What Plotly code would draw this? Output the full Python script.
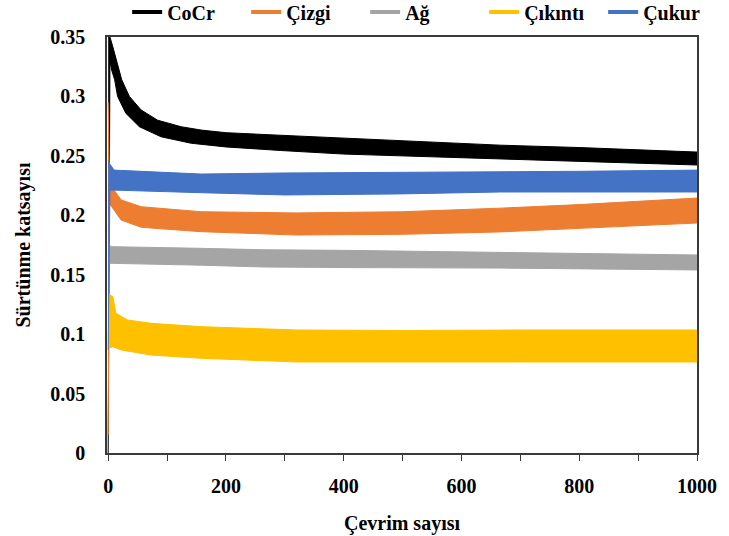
import plotly.graph_objects as go

# ---- data (band upper / lower edges) ----
names = ["CoCr", "Çizgi", "Ağ", "Çıkıntı", "Çukur"]
colors = ["#000000", "#ED7D31", "#A5A5A5", "#FFC000", "#4472C4"]

# CoCr
xu_cocr = [0, 3, 8, 15, 23, 36, 56, 84, 124, 158, 200, 263, 400, 500, 666, 800, 1000]
up_cocr = [0.350, 0.350, 0.3416, 0.328, 0.314, 0.300, 0.2886, 0.280, 0.2745, 0.2717, 0.2695, 0.268, 0.265, 0.2625, 0.259, 0.257, 0.2532]
xl_cocr = [0, 3, 6, 11, 16, 30, 53, 90, 141, 200, 293, 400, 500, 666, 800, 1000]
lo_cocr = [0.000, 0.330, 0.322, 0.314, 0.300, 0.2858, 0.2745, 0.266, 0.2606, 0.2575, 0.2545, 0.2515, 0.250, 0.2474, 0.2455, 0.2423]

# Çizgi
xu_cizgi = [0, 2, 8, 22, 56, 158, 320, 500, 666, 800, 1000]
up_cizgi = [0.295, 0.228, 0.2227, 0.2129, 0.2072, 0.203, 0.202, 0.203, 0.206, 0.209, 0.2145]
xl_cizgi = [0, 2, 8, 22, 56, 158, 320, 500, 666, 800, 1000]
lo_cizgi = [0.015, 0.210, 0.2059, 0.196, 0.1899, 0.1862, 0.1834, 0.184, 0.186, 0.189, 0.1935]

# Ağ
xu_ag = [0, 5, 158, 263, 400, 666, 800, 1000]
up_ag = [0.176, 0.1736, 0.1722, 0.171, 0.1705, 0.169, 0.168, 0.1666]
xl_ag = [0, 5, 158, 263, 400, 666, 800, 1000]
lo_ag = [0.159, 0.1596, 0.158, 0.1565, 0.1560, 0.1556, 0.155, 0.1540]

# Çıkıntı
xu_cikinti = [0, 3, 8, 13, 33, 73, 158, 320, 500, 700, 1000]
up_cikinti = [0.1346, 0.133, 0.1315, 0.1175, 0.1119, 0.1091, 0.1063, 0.1035, 0.103, 0.1035, 0.1035]
xl_cikinti = [0, 8, 22, 73, 158, 320, 500, 700, 1000]
lo_cikinti = [0.088, 0.0894, 0.0867, 0.0824, 0.0797, 0.0766, 0.0766, 0.0766, 0.0766]

# Çukur
xu_cukur = [0, 3, 10, 158, 300, 500, 666, 800, 1000]
up_cukur = [0.246, 0.243, 0.238, 0.2347, 0.2356, 0.236, 0.2364, 0.237, 0.238]
xl_cukur = [0, 3, 10, 158, 300, 500, 666, 800, 1000]
lo_cukur = [0.0866, 0.2213, 0.221, 0.219, 0.2171, 0.218, 0.2196, 0.2196, 0.2196]

x_tick_vals = [0, 200, 400, 600, 800, 1000]
y_tick_vals = [0, 0.05, 0.1, 0.15, 0.2, 0.25, 0.3, 0.35]
y_tick_text = ["0", "0.05", "0.1", "0.15", "0.2", "0.25", "0.3", "0.35"]

series = [
    (xu_cocr, up_cocr, xl_cocr, lo_cocr),
    (xu_cizgi, up_cizgi, xl_cizgi, lo_cizgi),
    (xu_ag, up_ag, xl_ag, lo_ag),
    (xu_cikinti, up_cikinti, xl_cikinti, lo_cikinti),
    (xu_cukur, up_cukur, xl_cukur, lo_cukur),
]

FONT = "Liberation Serif"

fig = go.Figure()
for name, col, (xu, up, xl, lo) in zip(names, colors, series):
    fig.add_trace(go.Scatter(
        x=list(xu) + list(xl)[::-1],
        y=list(up) + list(lo)[::-1],
        fill="toself", fillcolor=col, mode="lines",
        line=dict(color=col, width=1),
        showlegend=False, hoverinfo="skip",
    ))
# legend entries
for name, col in zip(names, colors):
    fig.add_trace(go.Scatter(
        x=[None], y=[None], mode="lines", name=name,
        line=dict(color=col, width=4),
    ))

fig.update_layout(
    width=729, height=536,
    margin=dict(l=107, r=32, t=37, b=83, autoexpand=False),
    paper_bgcolor="white", plot_bgcolor="white",
    font=dict(family=FONT, size=20, color="#000000", weight="bold"),
    showlegend=True,
    legend=dict(
        orientation="h", x=1.0426, xanchor="right", y=1.107, yanchor="top",
        entrywidth=74, entrywidthmode="pixels",
        font=dict(family=FONT, size=20, color="#000000", weight="bold"),
        itemwidth=30, bgcolor="rgba(0,0,0,0)", tracegroupgap=0,
    ),
    xaxis=dict(
        range=[-2, 1000], tickvals=x_tick_vals,
        showline=True, linecolor="#3a3a3a", linewidth=1.5, mirror=True,
        ticks="outside", ticklen=6, tickcolor="#3a3a3a", tickwidth=1.2,
        minor=dict(dtick=100, tick0=0, ticks="outside", ticklen=6, tickcolor="#3a3a3a", tickwidth=1.2, showgrid=False),
        showgrid=False, zeroline=False,
        tickfont=dict(family=FONT, size=20, weight="bold"),
        ticklabelstandoff=8,
        title=dict(text="Çevrim sayısı", font=dict(family=FONT, size=20, weight="bold"), standoff=20),
    ),
    yaxis=dict(
        range=[0, 0.35], tickvals=y_tick_vals, ticktext=y_tick_text,
        showline=True, linecolor="#3a3a3a", linewidth=1.5, mirror=True,
        ticks="", showgrid=False, zeroline=False,
        tickfont=dict(family=FONT, size=20, weight="bold"),
        ticklabelstandoff=16,
        title=dict(text="Sürtünme katsayısı", font=dict(family=FONT, size=20, weight="bold"), standoff=14),
    ),
)

fig.write_html("out.html")
